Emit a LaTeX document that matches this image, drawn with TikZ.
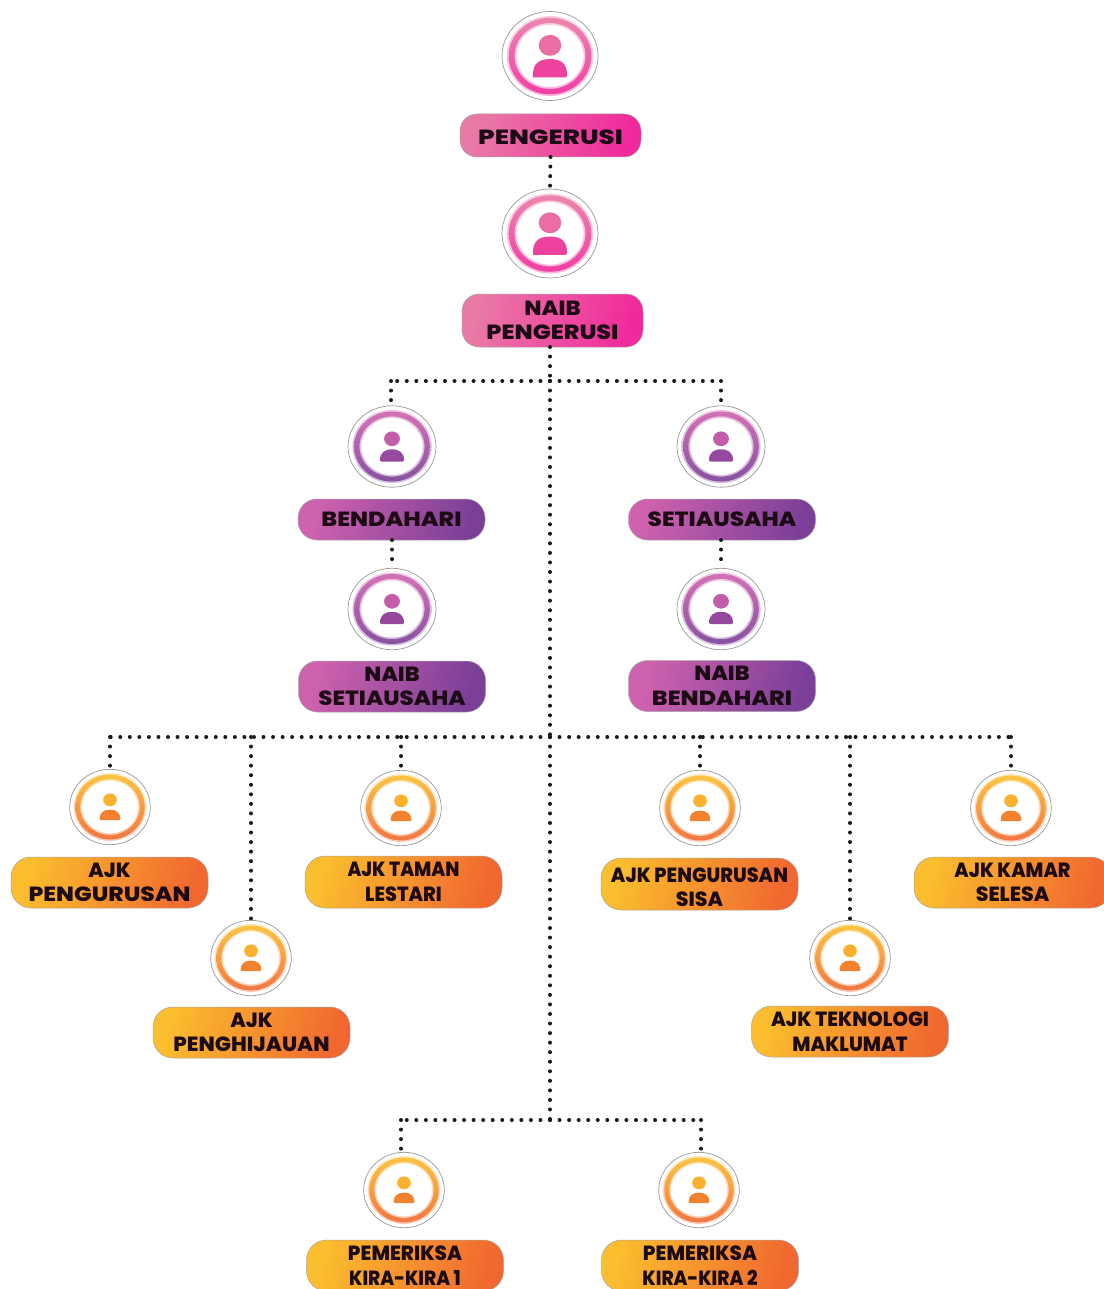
\documentclass[tikz,border=0pt]{standalone}
\usepackage{fontspec}
\setmainfont{Poppins}[BoldFont={* ExtraBold}]
\usetikzlibrary{shapes.geometric}
\definecolor{pinkA}{HTML}{E97AA6}\definecolor{pinkB}{HTML}{F02A9C}
\definecolor{purpA}{HTML}{CF62AE}\definecolor{purpB}{HTML}{7B3F98}
\definecolor{oranA}{HTML}{FBBE2E}\definecolor{oranB}{HTML}{F0682F}
\definecolor{inktext}{HTML}{1C0A14}
\tikzset{
 x=1pt,y=-1pt,
 avatar/.style={ellipse,draw=black!40,line width=.7pt,fill=white,inner sep=0pt,outer sep=0pt},
 pill/.style={rounded corners=#1,draw=black!35,line width=.5pt,inner sep=0pt,outer sep=0pt,align=center,text=inktext,
   font=\fontsize{20.5}{24.5}\selectfont\bfseries},
 pinkpill/.style={pill=17pt,left color=pinkA,right color=pinkB,minimum width=181pt,shading angle=75},
 purppill/.style={pill=19pt,left color=purpA,right color=purpB,minimum width=187pt,shading angle=75},
 oranpill/.style={pill=20pt,left color=oranA,right color=oranB,minimum width=197pt,shading angle=75},
 dots/.style={line width=4pt,line cap=round,dash pattern=on 0pt off 9.55pt,draw=black!90},
}
\newcommand{\sx}[2]{\scalebox{#1}[1]{#2}}
% name, x, y, rx, ry, colA, colB, head offset, head r
\newcommand{\avatarnode}[9]{%
 \node[avatar,minimum width=2*#4 pt,minimum height=2*#5 pt] (#1) at (#2,#3) {};
 \begin{scope}[shift={(#2,#3)},xscale=#4,yscale=#5]
  \shade[top color=#6,bottom color=#7,even odd rule,opacity=.35]
    (0,0) circle[radius=.90] (0,0) circle[radius=.70];
  \shade[top color=#6,bottom color=#7,even odd rule,opacity=.85]
    (0,0) circle[radius=.86] (0,0) circle[radius=.74];
  \fill[#6!85!#7] (0,-#8) circle[radius=#9];
  \avatarbody{#6}{#7}{#8}{#9}
 \end{scope}}
\newcommand{\avatarbody}[4]{%
  \pgfmathsetmacro{\bt}{.07}\pgfmathsetmacro{\bb}{#4*2.05}\pgfmathsetmacro{\bw}{#4*1.52}
  \fill[#2!70!#1]
    (-\bw,\bb-.03) .. controls (-\bw,\bt+.08) and (-.6*\bw,\bt) .. (0,\bt)
    .. controls (.6*\bw,\bt) and (\bw,\bt+.08) .. (\bw,\bb-.03)
    .. controls (\bw,\bb) .. (\bw-.03,\bb) -- (-\bw+.03,\bb) .. controls (-\bw,\bb) .. cycle;}
\newcommand{\pinkav}[3]{\avatarnode{#1}{#2}{#3}{48}{44.5}{pinkA}{pinkB}{.24}{.235}}
\newcommand{\purpav}[3]{\avatarnode{#1}{#2}{#3}{44}{40.7}{purpA}{purpB}{.19}{.18}}
\newcommand{\oranav}[3]{\avatarnode{#1}{#2}{#3}{40.3}{37.7}{oranA}{oranB}{.19}{.17}}
\begin{document}
\begin{tikzpicture}
\useasboundingbox[fill=white] (0,0) rectangle (1103,1289);
% junctions
\coordinate (j1) at (550,381);
\coordinate (j1l) at (391,381);
\coordinate (j1r) at (721,381);
\coordinate (j2) at (550,737);
\coordinate (j2a) at (110,737);
\coordinate (j2b) at (251,737);
\coordinate (j2c) at (401,737);
\coordinate (j2d) at (700,737);
\coordinate (j2e) at (850,737);
\coordinate (j2f) at (1011,737);
\coordinate (j3) at (550,1120);
\coordinate (j3l) at (401,1120);
\coordinate (j3r) at (701,1120);
% avatars
\pinkav{cPeng}{550}{56}
\pinkav{cNaib}{550}{233.5}
\purpav{cBen}{392}{446.5}
\purpav{cSet}{721}{446.5}
\purpav{cNset}{392}{609}
\purpav{cNben}{721}{609}
\oranav{cPgr}{110}{807}
\oranav{cHij}{251}{958}
\oranav{cTam}{401}{808}
\oranav{cSis}{700}{808}
\oranav{cKam}{1011}{808}
\oranav{cTek}{850}{958}
\oranav{cPm1}{404}{1190}
\oranav{cPm2}{699}{1190}
% pills
\node[pinkpill,minimum height=43pt,text height=19pt] (pPeng) at (550.5,135.5) {\sx{1.27}{PENGERUSI}};
\node[pinkpill,minimum height=53pt] (pNaib) at (552.5,320.5) {\sx{1.1}{NAIB}\\\sx{1.16}{PENGERUSI}};
\node[purppill,minimum height=41pt] (pBen) at (391.5,519.5) {\sx{1.15}{BENDAHARI}};
\node[purppill,minimum height=41pt] (pSet) at (722,519.5) {\sx{1.13}{SETIAUSAHA}};
\node[purppill,minimum height=51pt] (pNset) at (392,686.5) {\sx{1.08}{NAIB}\\\sx{1.12}{SETIAUSAHA}};
\node[purppill,minimum height=51pt] (pNben) at (722,686) {\sx{1.08}{NAIB}\\\sx{1.15}{BENDAHARI}};
\node[oranpill,minimum height=51pt] (pPgr) at (109.5,882.5) {AJK\\\sx{1.14}{PENGURUSAN}};
\node[oranpill,minimum height=51pt] (pHij) at (251.5,1032.5) {AJK\\\sx{1.04}{PENGHIJAUAN}};
\node[oranpill,minimum height=52pt] (pTam) at (403.5,882) {\sx{.9}{AJK TAMAN}\\\sx{.94}{LESTARI}};
\node[oranpill,minimum height=52pt,text height=46pt] (pSis) at (699.5,884) {\sx{.94}{AJK PENGURUSAN}\\SISA};
\node[oranpill,minimum height=51pt] (pKam) at (1012.5,882.5) {\sx{.93}{AJK KAMAR}\\SELESA};
\node[oranpill,minimum height=51pt] (pTek) at (850,1031.5) {\sx{.96}{AJK TEKNOLOGI}\\\sx{.95}{MAKLUMAT}};
\node[oranpill,minimum height=51pt] (pPm1) at (405,1265.5) {\sx{.97}{PEMERIKSA}\\\sx{.9}{KIRA-KIRA 1}};
\node[oranpill,minimum height=51pt] (pPm2) at (700,1265.5) {\sx{.97}{PEMERIKSA}\\\sx{.9}{KIRA-KIRA 2}};
% connectors
\draw[dots] (pPeng.south) -- (cNaib.north);
\draw[dots] (pNaib.south -| j1) -- (j1);
\draw[dots] (j1) -- (j2);
\draw[dots] (j2) -- (j3);
\draw[dots] (j1) -- (j1l);
\draw[dots] (j1) -- (j1r);
\draw[dots] (j1l) -- (cBen.north -| j1l);
\draw[dots] (j1r) -- (cSet.north);
\draw[dots] (pBen.south -| cBen) -- (cNset.north);
\draw[dots] (pSet.south -| cSet) -- (cNben.north);
\draw[dots] (j2) -- (j2a);
\draw[dots] (j2) -- (j2f);
\draw[dots] (j2a) -- (cPgr.north);
\draw[dots] (j2b) -- (cHij.north);
\draw[dots] (j2c) -- (cTam.north);
\draw[dots] (j2d) -- (cSis.north);
\draw[dots] (j2e) -- (cTek.north);
\draw[dots] (j2f) -- (cKam.north);
\draw[dots] (j3) -- (j3l);
\draw[dots] (j3) -- (j3r);
\draw[dots] (j3l) -- (cPm1.north -| j3l);
\draw[dots] (j3r) -- (cPm2.north -| j3r);
\end{tikzpicture}
\end{document}
